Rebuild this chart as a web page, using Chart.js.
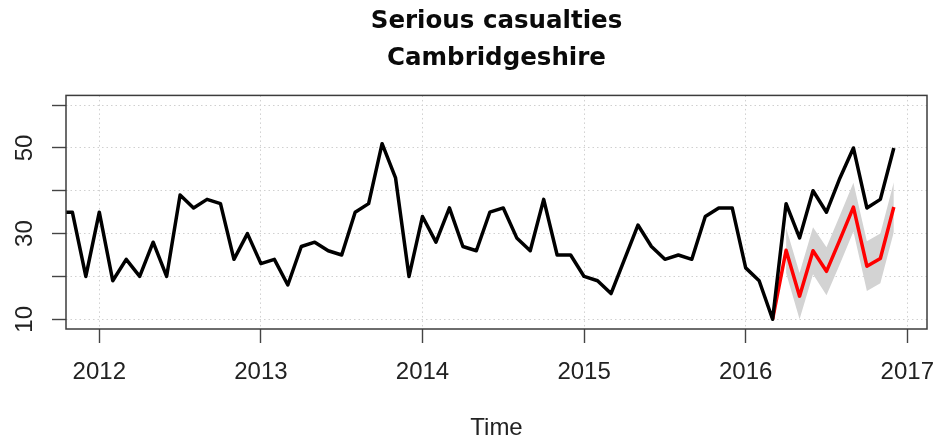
<!DOCTYPE html>
<html>
<head>
<meta charset="utf-8">
<title>Serious casualties – Cambridgeshire</title>
<script src="https://cdn.jsdelivr.net/npm/chart.js@4.4.0/dist/chart.umd.min.js"></script>
<style>
  html, body { margin: 0; padding: 0; background: #ffffff; }
  canvas { display: block; }
</style>
</head>
<body>
<canvas id="chart" width="939" height="439" style="width:939px;height:439px"></canvas>
<script>
// Monthly serious casualties, Cambridgeshire (series starts October 2011)
const seriesStart = 2011 + 9 / 12;
const observed = [
  35, 35, 20,                                         // 2011 Oct-Dec
  35, 19, 24, 20, 28, 20, 39, 36, 38, 37, 24, 30,     // 2012
  23, 24, 18, 27, 28, 26, 25, 35, 37, 51, 43, 20,     // 2013
  34, 28, 36, 27, 26, 35, 36, 29, 26, 38, 25, 25,     // 2014
  20, 19, 16, 24, 32, 27, 24, 25, 24, 34, 36, 36,     // 2015
  22, 19, 10, 37, 29, 40, 35, 43, 50, 36, 38, 50      // 2016
];

// Model forecast from March 2016, with its prediction interval from April 2016
const forecastStart = 2016 + 2 / 12;
const forecast = [10, 26.1, 15.4, 26.0, 21.2, 28.6, 36.2, 22.4, 24.2, 36.2];
const intervalStart = 2016 + 3 / 12;
const upper = [31.4, 20.8, 31.5, 26.8, 34.3, 41.9, 28.2, 30.0, 42.0];
const lower = [20.8, 10.0, 20.5, 15.6, 22.9, 30.5, 16.6, 18.4, 30.4];

// Axis ticks
const yearTicks = [2012, 2013, 2014, 2015, 2016, 2017];
const valueTicks = [10, 20, 30, 40, 50, 60];
const valueLabels = [10, 30, 50];

const monthly = (start, values) => values.map((v, i) => ({ x: start + i / 12, y: v }));

// Frame drawn around the plotting region
const plotFrame = {
  id: 'plotFrame',
  afterDatasetsDraw(chart) {
    const { ctx, chartArea: a } = chart;
    ctx.save();
    ctx.strokeStyle = '#3c3c3c';
    ctx.lineWidth = 1.5;
    ctx.strokeRect(a.left, a.top, a.right - a.left, a.bottom - a.top);
    ctx.restore();
  }
};

const tickFont = { family: "'Liberation Sans', Arial, sans-serif", size: 24 };
const gridOpts = { color: '#d0d0d0', lineWidth: 1, tickColor: '#444444', tickWidth: 1.4, tickLength: 14 };

new Chart(document.getElementById('chart'), {
  type: 'line',
  data: {
    datasets: [
      {
        label: 'Observed',
        data: monthly(seriesStart, observed),
        borderColor: '#000000',
        borderWidth: 3.5,
        pointRadius: 0,
        tension: 0,
        borderJoinStyle: 'round',
        fill: false,
        clip: 0
      },
      {
        label: 'Forecast',
        data: monthly(forecastStart, forecast),
        borderColor: '#ff0000',
        borderWidth: 3.5,
        pointRadius: 0,
        tension: 0,
        borderJoinStyle: 'round',
        fill: false,
        clip: 0
      },
      {
        label: 'Upper',
        data: monthly(intervalStart, upper),
        borderWidth: 0,
        borderColor: 'rgba(0,0,0,0)',
        pointRadius: 0,
        tension: 0,
        fill: false
      },
      {
        label: 'Lower',
        data: monthly(intervalStart, lower),
        borderWidth: 0,
        borderColor: 'rgba(0,0,0,0)',
        backgroundColor: '#d3d3d3',
        pointRadius: 0,
        tension: 0,
        fill: '-1'
      }
    ]
  },
  options: {
    responsive: false,
    devicePixelRatio: 1,
    animation: false,
    events: [],
    layout: { padding: { left: 0, right: 12, top: 0, bottom: 0 } },
    plugins: {
      legend: { display: false },
      tooltip: { enabled: false },
      title: {
        display: true,
        fullSize: false,
        text: ['Serious casualties', 'Cambridgeshire'],
        color: '#0a0a0a',
        font: { family: "'DejaVu Sans', sans-serif", size: 24.5, weight: 'bold', lineHeight: 1.486 },
        padding: { top: 3.6, bottom: 19.0 }
      }
    },
    scales: {
      x: {
        type: 'linear',
        min: 2011.794,
        max: 2017.122,
        afterBuildTicks: s => { s.ticks = yearTicks.map(v => ({ value: v })); },
        afterFit: s => { s.height = 110; s.paddingLeft = 0; s.paddingRight = 0; },
        grid: gridOpts,
        border: { display: false, dash: [1.5, 3] },
        ticks: {
          font: tickFont,
          color: '#222222',
          padding: 15.3,
          maxRotation: 0,
          autoSkip: false,
          callback: v => String(v)
        },
        title: {
          display: true,
          text: 'Time',
          color: '#222222',
          font: { family: "'Liberation Sans', Arial, sans-serif", size: 24, lineHeight: 0.88 },
          padding: { top: 0, bottom: 0 }
        }
      },
      y: {
        type: 'linear',
        min: 7.73,
        max: 62.27,
        afterBuildTicks: s => { s.ticks = valueTicks.map(v => ({ value: v })); },
        afterFit: s => { s.width = 66; s.paddingTop = 0; s.paddingBottom = 0; },
        grid: gridOpts,
        border: { display: false, dash: [1.5, 3] },
        ticks: {
          font: tickFont,
          color: '#222222',
          padding: 13.6,
          minRotation: 90,
          maxRotation: 90,
          crossAlign: 'center',
          autoSkip: false,
          callback: v => valueLabels.includes(v) ? String(v) : ''
        }
      }
    }
  },
  plugins: [plotFrame]
});
</script>
</body>
</html>
